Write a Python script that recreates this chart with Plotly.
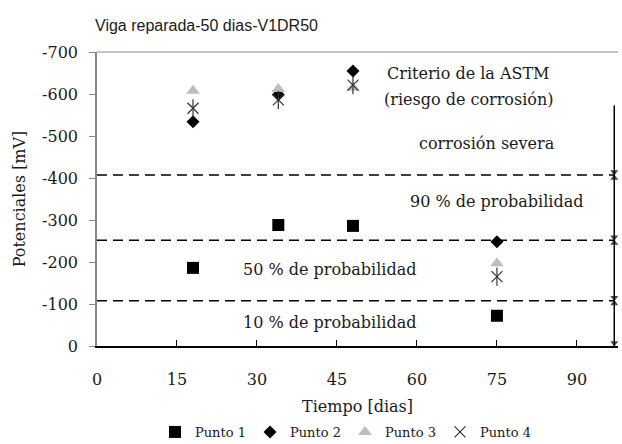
import plotly.graph_objects as go

dias = [18, 34, 48, 75]
punto1 = [-186, -288, -286, -72]
punto2 = [-534, -598, -655, -248]
punto3 = [-608, -612, -615, -197]
punto4 = [-566, -586, -621, -165]

umbrales = [-407, -252, -108]
tope_flecha = -573
x_ticks = [0, 15, 30, 45, 60, 75, 90]
y_ticks = [0, -100, -200, -300, -400, -500, -600, -700]
y_ticktext = ["0", "-100", "-200", "-300", "-400", "-500", "-600", "-700"]

serif = "DejaVu Serif"
txt_color = "#1a1a1a"
fig = go.Figure()

fig.add_trace(go.Scatter(x=dias, y=punto1, mode="markers", name="Punto 1",
                         marker=dict(symbol="square", size=12, color="black")))
fig.add_trace(go.Scatter(x=dias, y=punto2, mode="markers", name="Punto 2",
                         marker=dict(symbol="diamond", size=10, color="black")))
fig.add_trace(go.Scatter(x=dias, y=punto3, mode="markers", name="Punto 3",
                         marker=dict(symbol="triangle-up", size=12, color="#BDBDBD")))
fig.add_trace(go.Scatter(x=dias, y=punto4, mode="markers", name="Punto 4",
                         marker=dict(symbol="x-thin-open", size=11, color="#333333",
                                     line=dict(width=1.2, color="#333333"))))
fig.add_trace(go.Scatter(x=dias, y=punto4, mode="markers", showlegend=False,
                         hoverinfo="skip",
                         marker=dict(symbol="line-ns-open", size=13, color="#333333",
                                     line=dict(width=1.2, color="#333333"))))

# vertical arrows on the right side (between threshold lines)
x_flecha = 97
d = 7  # arrowhead centre offset from tip, in mV units
tramos = [(tope_flecha, umbrales[0], 0), (umbrales[0], umbrales[1], 1),
          (umbrales[1], umbrales[2], 1), (umbrales[2], 0, 1)]
for y_top, y_bot, head_top in tramos:
    fig.add_trace(go.Scatter(
        x=[x_flecha] * 4, y=[y_top, y_top + d, y_bot - d, y_bot],
        mode="lines+markers",
        showlegend=False, hoverinfo="skip", cliponaxis=False,
        line=dict(color="black", width=1.5),
        marker=dict(symbol=["circle", "triangle-up", "triangle-down", "circle"],
                    size=[0, 7 * head_top, 7, 0], color="black",
                    line=dict(width=0))))

shapes = []
for u in umbrales:
    shapes.append(dict(type="line", xref="x", yref="y", x0=0, x1=x_flecha, y0=u, y1=u,
                       line=dict(color="black", width=1.5, dash="10px,6px")))
# top border line
shapes.append(dict(type="line", xref="paper", yref="paper", x0=0, x1=1, y0=1, y1=1,
                   line=dict(color="#888888", width=1.2)))

annotations = []
txt_font = dict(family=serif, size=16, color=txt_color)
annotations.append(dict(x=54, y=-650, xref="x", yref="y", text="Criterio de la ASTM",
                        showarrow=False, xanchor="left", font=txt_font))
annotations.append(dict(x=53.5, y=-586, xref="x", yref="y", text="(riesgo de corrosión)",
                        showarrow=False, xanchor="left", font=txt_font))
annotations.append(dict(x=73.2, y=-483, xref="x", yref="y", text="corrosión severa",
                        showarrow=False, xanchor="center", font=txt_font))
annotations.append(dict(x=75, y=-343, xref="x", yref="y", text="90 % de probabilidad",
                        showarrow=False, xanchor="center", font=txt_font))
annotations.append(dict(x=43.6, y=-181, xref="x", yref="y", text="50 % de probabilidad",
                        showarrow=False, xanchor="center", font=txt_font))
annotations.append(dict(x=43.6, y=-57, xref="x", yref="y", text="10 % de probabilidad",
                        showarrow=False, xanchor="center", font=txt_font))

fig.update_layout(
    width=622, height=444,
    margin=dict(l=97, r=4, t=52, b=98),
    paper_bgcolor="white", plot_bgcolor="white",
    title=dict(text="Viga reparada-50 dias-V1DR50", x=95/622, xanchor="left",
               y=1 - 25/444, yanchor="middle",
               font=dict(family="Liberation Sans", size=16, color=txt_color)),
    font=dict(family=serif, size=15, color=txt_color),
    shapes=shapes, annotations=annotations,
    legend=dict(orientation="h", x=(345 - 97) / 521, xanchor="center",
                yref="container", y=1 - 432/444, yanchor="middle",
                font=dict(family=serif, size=13, color=txt_color),
                itemwidth=30, tracegroupgap=0,
                entrywidth=50, entrywidthmode="pixels"),
    showlegend=True,
)
fig.update_xaxes(range=[0, 97.7], tickvals=x_ticks, showgrid=False, zeroline=False,
                 showline=True, linecolor="black", linewidth=1.5,
                 ticks="inside", ticklen=6, tickcolor="black",
                 ticklabelstandoff=18, automargin=False,
                 tickfont=dict(family=serif, size=16, color=txt_color),
                 title=dict(text="Tiempo [dias]", standoff=13,
                            font=dict(family=serif, size=16, color=txt_color)))
fig.update_yaxes(range=[0, -700], tickvals=y_ticks, ticktext=y_ticktext,
                 showgrid=False, zeroline=False,
                 showline=True, linecolor="#888888", linewidth=1.5,
                 ticks="outside", ticklen=6, tickcolor="#888888",
                 ticklabelstandoff=8, automargin=False,
                 tickfont=dict(family=serif, size=16, color=txt_color),
                 title=dict(text="Potenciales [mV]", standoff=12,
                            font=dict(family=serif, size=16, color=txt_color)))

fig.write_html("out.html", config={"displayModeBar": False},
               post_script="document.body.style.margin='0';")
